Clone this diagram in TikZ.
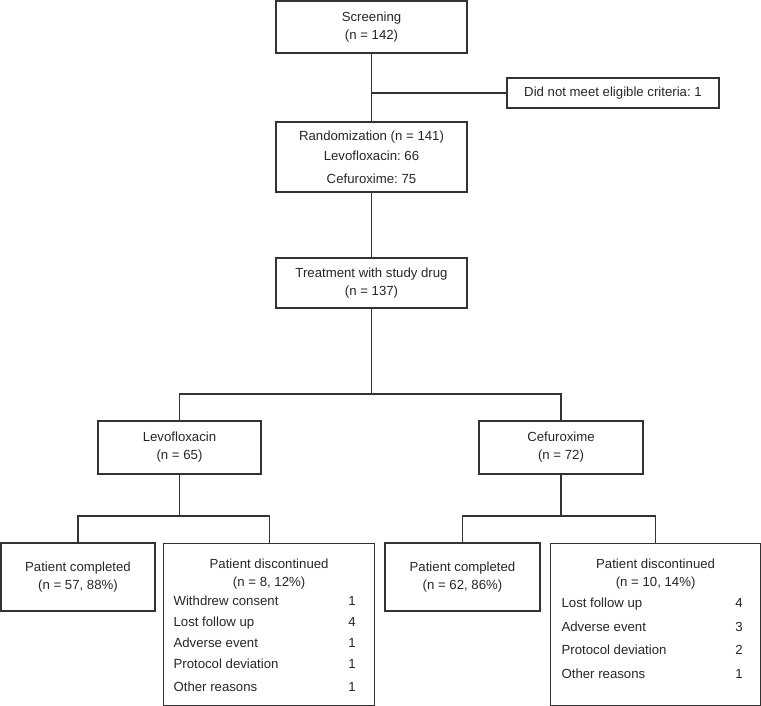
\documentclass[tikz,border=0pt]{standalone}
\usepackage{fontspec}
\setmainfont{Liberation Sans}
\usepackage{array}
\frenchspacing
\begin{document}
\begin{tikzpicture}[x=1pt, y=-1pt, line width=1.2pt, draw=black!80, text=black!85,
  font=\fontsize{13.2}{18}\selectfont,
  box/.style = {draw, rectangle, align=center, inner sep=2pt},
  listbox/.style = {draw, rectangle, anchor=north west, inner sep=0pt, text height=25pt, text depth=137pt}]
\useasboundingbox (0,0) rectangle (761,706);
\node[box, minimum width=191pt, minimum height=52pt] (screen) at (371.5,27) {Screening\\(n = 142)};
\node[box, minimum width=212pt, minimum height=30pt] (excl) at (613,93) {Did not meet eligible criteria: 1};
\node[box, minimum width=191pt, minimum height=70pt] (rand) at (371.5,157) {Randomization (n = 141)\\[2pt]Levofloxacin: 66\\[5pt]Cefuroxime: 75};
\node[box, minimum width=191pt, minimum height=50pt] (treat) at (371.5,283) {Treatment with study drug\\(n = 137)};
\node[box, minimum width=163pt, minimum height=53pt] (levo) at (179.5,447.5) {Levofloxacin\\(n = 65)};
\node[box, minimum width=164pt, minimum height=53pt] (cefu) at (561,447.5) {Cefuroxime\\(n = 72)};
\node[box, minimum width=154pt, minimum height=68pt] (levocomp) at (78,577) {Patient completed\\(n = 57, 88\%)};
\node[listbox] (levodisc) at (163,543) {\begin{tabular}[t]{@{\hspace{10pt}}p{174.7pt}@{}r@{\hspace{19pt}}}
  \multicolumn{2}{@{}c@{}}{Patient discontinued}\\
  \multicolumn{2}{@{}c@{}}{(n = 8, 12\%)}\\[1pt]
  Withdrew consent & 1\\[3pt]
  Lost follow up & 4\\[3pt]
  Adverse event & 1\\[3pt]
  Protocol deviation & 1\\[5pt]
  Other reasons & 1
\end{tabular}};
\node[box, minimum width=155pt, minimum height=68pt] (cefucomp) at (462.5,577) {Patient completed\\(n = 62, 86\%)};
\node[listbox] (cefudisc) at (550,543) {\begin{tabular}[t]{@{\hspace{11pt}}p{173.7pt}@{}r@{\hspace{18pt}}}
  \multicolumn{2}{@{}c@{}}{Patient discontinued}\\
  \multicolumn{2}{@{}c@{}}{(n = 10, 14\%)}\\[3pt]
  Lost follow up & 4\\[6pt]
  Adverse event & 3\\[5pt]
  Protocol deviation & 2\\[6pt]
  Other reasons & 1
\end{tabular}};
\coordinate (split1) at (371.5,394);
\coordinate (split2) at (179.5,516);
\coordinate (split3) at (561,516);
\draw (screen) -- (rand);
\draw (excl.west) -- (excl.west -| screen);
\draw (rand) -- (treat);
\draw (treat) -- (split1);
\draw (levo.north) |- (split1) -| (cefu.north);
\draw (levo) -- (split2);
\draw (levocomp.north) |- (split2) -| (levodisc.north);
\draw (cefu) -- (split3);
\draw (cefucomp.north) |- (split3) -| (cefudisc.north);
\end{tikzpicture}
\end{document}
